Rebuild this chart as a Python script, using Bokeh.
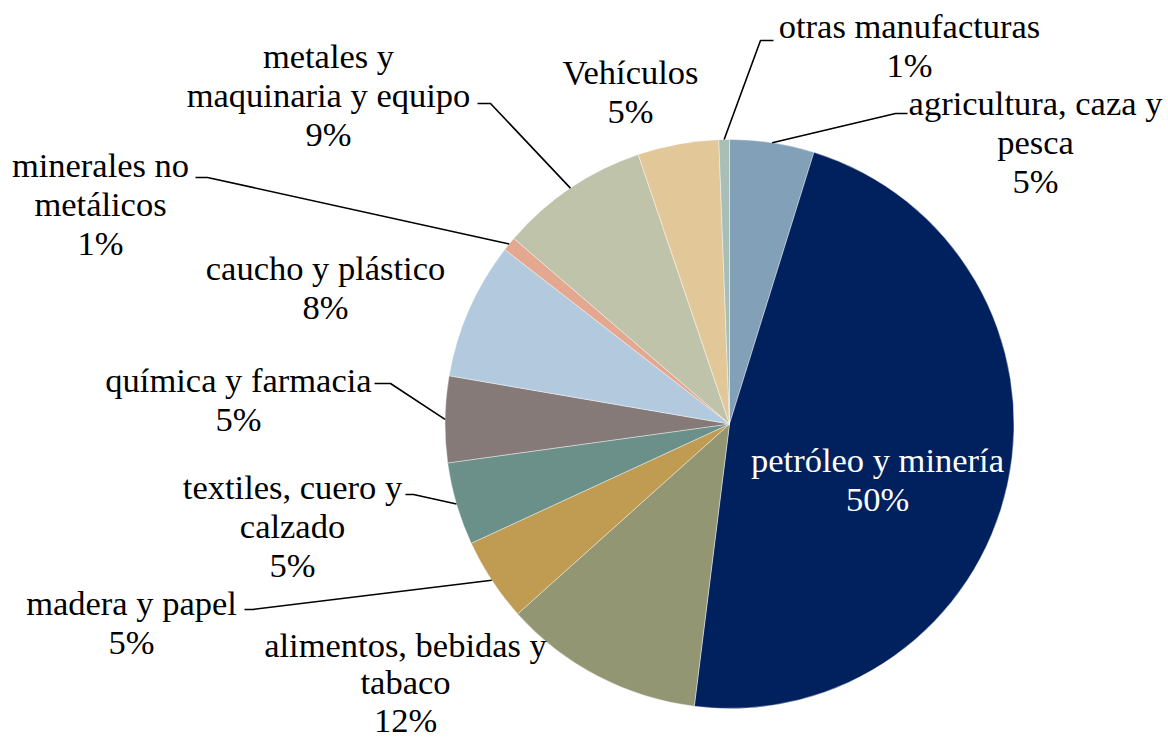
import math
from bokeh.plotting import figure
from bokeh.models import Range1d
from bokeh.embed import file_html
from bokeh.resources import INLINE
from bokeh.core.properties import value

# ---- data (clockwise from 12 o'clock) ----
sectors = ["agricultura, caza y pesca", "petróleo y minería", "alimentos, bebidas y tabaco",
           "madera y papel", "textiles, cuero y calzado", "química y farmacia",
           "caucho y plástico", "minerales no metálicos", "metales y maquinaria y equipo",
           "Vehículos", "otras manufacturas"]
shares = [4.8, 47.2, 11.4, 4.75, 4.7, 4.9, 7.8, 0.8, 8.5, 4.6, 0.6]
pct_labels = ["5%", "50%", "12%", "5%", "5%", "5%", "8%", "1%", "9%", "5%", "1%"]
label_lines = [["agricultura, caza y", "pesca"], ["petróleo y minería"], ["alimentos, bebidas y", "tabaco"],
               ["madera y papel"], ["textiles, cuero y", "calzado"], ["química y farmacia"],
               ["caucho y plástico"], ["minerales no", "metálicos"], ["metales y", "maquinaria y equipo"],
               ["Vehículos"], ["otras manufacturas"]]
colors = ["#82A0B8", "#00215E", "#939673", "#BF9C52", "#6A9089", "#857A78",
          "#B3CADE", "#E3A88F", "#BFC3AA", "#E2C799", "#A7BFB6"]

# ---- layout (screen px, y downwards) ----
CX, CY, R = 729, 423.5, 284.5
label_pos = [(1035, 102), (877, 459), (405, 644), (131, 602), (292, 486), (238, 379),
             (325, 267), (100, 164), (328, 55), (630, 71), (909, 25)]
line_h = [39, 39, 37.5, 39, 39, 39, 39, 39, 39, 39, 39]
label_color = ["black", "white"] + ["black"] * 9
# leader elbows: (elbow_x, elbow_y, end_x) or None
leaders = [(895, 113, 907), None, None, (252, 609, 244), (413, 494, 405), (390, 383, 374),
           None, (207, 177, 195), (490, 103, 477), None, (760, 40, 773)]

W, H = 1166, 739
p = figure(width=W, height=H, x_range=Range1d(0, W), y_range=Range1d(-H, 0),
           output_backend="svg", toolbar_location=None, min_border=0)
p.axis.visible = False
p.grid.visible = False
p.outline_line_color = None

FONT = value("'Liberation Serif', 'Times New Roman', serif")
total = sum(shares)
cum = 0.0
for i, v in enumerate(shares):
    a0 = 90 - cum / total * 360
    a1 = 90 - (cum + v) / total * 360
    cum += v
    p.wedge(x=CX, y=-CY, radius=R, start_angle=math.radians(a0), end_angle=math.radians(a1),
            direction="clock", fill_color=colors[i], line_color="white", line_width=0.4)
    mid = math.radians((a0 + a1) / 2)
    ex, ey = CX + R * math.cos(mid), CY - R * math.sin(mid)
    ld = leaders[i]
    if ld is not None:
        p.line([ex, ld[0], ld[2]], [-ey, -ld[1], -ld[1]], line_color="black", line_width=1.6)
    lines = label_lines[i] + [pct_labels[i]]
    lx, ly = label_pos[i]
    p.text(x=[lx] * len(lines), y=[-(ly + k * line_h[i]) for k in range(len(lines))], text=lines,
           text_font=FONT, text_font_size="34.5px", text_align="center", text_baseline="middle",
           text_color=label_color[i])

open("out.html", "w").write(file_html(p, INLINE))
